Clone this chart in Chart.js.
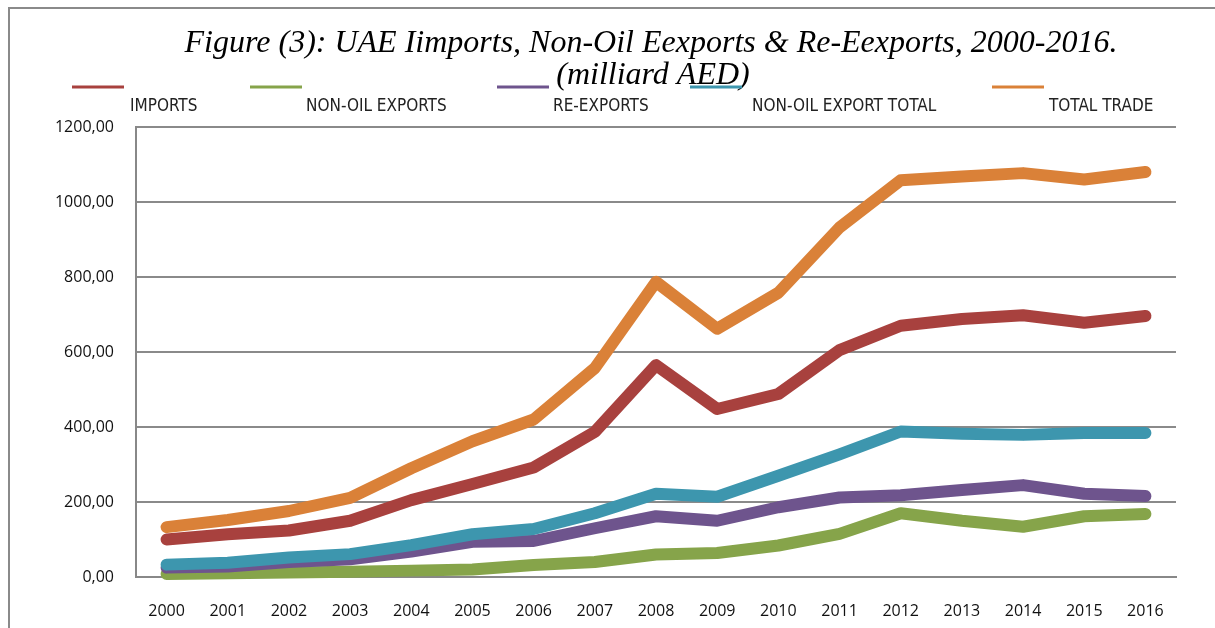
<!DOCTYPE html>
<html>
<head>
<meta charset="utf-8">
<script src="https://cdn.jsdelivr.net/npm/chart.js@4"></script>
<style>
    body { margin: 0; background: #fff; }
    #wrap { width: 1215px; height: 628px; position: relative; }
</style>
</head>
<body>
<div id="wrap"><canvas id="tradeChart"></canvas></div>
<script>
const years = ["2000", "2001", "2002", "2003", "2004", "2005", "2006", "2007", "2008",
    "2009", "2010", "2011", "2012", "2013", "2014", "2015", "2016"];

const imports = [100, 114, 124, 150, 205, 248, 292, 387, 565, 448, 488, 605, 670, 688, 698, 678, 696];
const nonOilExports = [8, 10, 12, 14, 17, 20, 32, 40, 60, 64, 84, 115, 170, 150, 134, 162, 168];
const reExports = [25, 28, 40, 47, 68, 94, 96, 130, 162, 150, 186, 212, 218, 232, 245, 222, 216];
const nonOilTotal = [33, 38, 52, 61, 85, 114, 128, 170, 222, 214, 270, 327, 388, 382, 379, 384, 384];
const totalTrade = [133, 152, 176, 211, 290, 362, 420, 557, 787, 662, 758, 932, 1058, 1068, 1077, 1060, 1080];

const seriesNames = ["IMPORTS", "NON-OIL EXPORTS", "RE-EXPORTS", "NON-OIL EXPORT TOTAL", "TOTAL TRADE"];
const seriesColors = ["#a8413e", "#86a44a", "#6e548d", "#3d96ae", "#da8138"];
const yTicks = [0, 200, 400, 600, 800, 1000, 1200];

const titleLines = [
    "Figure (3): UAE Iimports, Non-Oil Eexports & Re-Eexports, 2000-2016.",
    "(milliard AED)"
];

// legend swatch x and label x (layout only)
const legendPos = [
    { line: 72, text: 130 },
    { line: 250, text: 306 },
    { line: 497, text: 553 },
    { line: 690, text: 752 },
    { line: 992, text: 1049 },
];

const decorPlugin = {
    id: "decor",
    beforeDraw(chart) {
        const c = chart.ctx;
        c.save();
        c.fillStyle = "#fff";
        c.fillRect(0, 0, chart.width, chart.height);
        // outer frame
        c.strokeStyle = "#8a8a8a";
        c.lineWidth = 2;
        c.beginPath();
        c.moveTo(9, 628);
        c.lineTo(9, 8);
        c.lineTo(1215, 8);
        c.stroke();
        c.restore();
    },
    afterDraw(chart) {
        const c = chart.ctx;
        c.save();
        // title
        c.fillStyle = "#000";
        c.font = "italic 32px 'Liberation Serif', 'Times New Roman', serif";
        c.textAlign = "center";
        c.textBaseline = "middle";
        c.fillText(titleLines[0], 651, 44);
        c.fillText(titleLines[1], 653, 76);

        // legend
        c.textAlign = "left";
        c.font = "17px 'Liberation Sans Narrow', 'DejaVu Sans Condensed', sans-serif";
        chart.data.datasets.forEach((ds, i) => {
            const p = legendPos[i];
            c.strokeStyle = ds.borderColor;
            c.lineWidth = 3;
            c.beginPath();
            c.moveTo(p.line, 87);
            c.lineTo(p.line + 52, 87);
            c.stroke();
            c.fillStyle = "#222";
            c.fillText(ds.label, p.text, 107);
        });
        c.restore();
    }
};

const ctx = document.getElementById("tradeChart");

const allSeries = [imports, nonOilExports, reExports, nonOilTotal, totalTrade];

new Chart(ctx, {
    type: "line",
    data: {
        labels: years,
        datasets: allSeries.map((vals, i) => ({
            label: seriesNames[i],
            data: vals,
            borderColor: seriesColors[i],
            backgroundColor: seriesColors[i],
            borderWidth: 12,
            borderCapStyle: "round",
            borderJoinStyle: "round",
            pointRadius: 0,
            tension: 0,
            clip: false,
            order: allSeries.length - i,
        })),
    },
    options: {
        responsive: true,
        maintainAspectRatio: false,
        animation: false,
        layout: {
            padding: { left: 0, top: 127, right: 39, bottom: 0 },
        },
        plugins: {
            legend: { display: false },
            title: { display: false },
            tooltip: { enabled: false },
        },
        scales: {
            x: {
                offset: true,
                grid: { display: false, drawTicks: false },
                border: { color: "#888", width: 2 },
                ticks: {
                    color: "#111",
                    padding: 25,
                    maxRotation: 0,
                    font: { family: "'Open Sans', 'Noto Sans', sans-serif", size: 16 },
                },
                afterFit(scale) {
                    scale.height = 51;
                },
            },
            y: {
                min: 0,
                max: 1200,
                afterBuildTicks(scale) {
                    scale.ticks = yTicks.map((v) => ({ value: v }));
                },
                grid: { color: "#8a8a8a", lineWidth: 2, drawTicks: false },
                border: { color: "#888", width: 2 },
                ticks: {
                    color: "#111",
                    padding: 22,
                    font: { family: "'Open Sans', 'Noto Sans', sans-serif", size: 16 },
                    callback: (v) => Number(v).toFixed(2).replace(".", ","),
                },
                afterFit(scale) {
                    scale.width = 136;
                },
            },
        },
    },
    plugins: [decorPlugin],
});
</script>
</body>
</html>
